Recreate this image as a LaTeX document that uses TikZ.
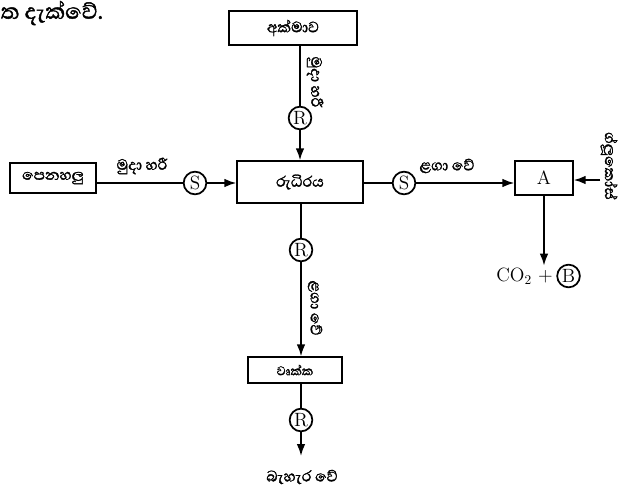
\documentclass[tikz,border=0pt]{standalone}
\usepackage{fontspec}
\newfontfamily\sinhfont[Script=Sinhala,AutoFakeBold=1.5]{Abhaya Libre}
\usetikzlibrary{arrows.meta,positioning}
\tikzset{
  >={Latex[length=9pt,width=6.5pt]},
  every picture/.style={line width=1.3pt},
  bx/.style={draw,line width=1.5pt,inner sep=2pt,font=\sinhfont\bfseries\Large},
  rnd/.style={circle,draw,line width=1.3pt,minimum size=17pt,inner sep=0pt,font=\Large},
  lab/.style={font=\sinhfont\bfseries\Large,inner sep=1pt},
  vlab/.style={lab,rotate=-90},
}

\begin{document}
\begin{tikzpicture}[x=0.75pt,y=-0.75pt]
  \useasboundingbox (0,0) rectangle (620,492);
  % heading
  \node[font=\sinhfont\bfseries\huge,anchor=north west,inner sep=0pt] (head) at (0,0) {ත දැක්වේ.};
  % boxes
  \node[bx,minimum width=96pt,minimum height=26pt] (liver) at (293,28) {අක්මාව};
  \node[bx,minimum width=94pt,minimum height=31pt] (blood) at (300,182) {රුධිරය};
  \node[bx,minimum width=65pt,minimum height=22pt] (lungs) at (53,178) {පෙනහලු};
  \node[bx,minimum width=43pt,minimum height=26pt,font=\Large] (A) at (544,178) {A};
  \node[bx,minimum width=71pt,minimum height=19pt,font=\sinhfont\bfseries\large] (kidney) at (295,370) {වෘක්ක};
  % circles
  \node[rnd] (r1) at (300,118) {R};
  \node[rnd] (s1) at (195,183) {S};
  \node[rnd] (s2) at (404,183) {S};
  \node[rnd] (r2) at (301,250) {R};
  \node[rnd] (r3) at (301,420) {R};
  \node[font=\Large,anchor=east,inner sep=1pt] (co2) at (555,276) {CO$_2$ +};
  \node[rnd,right=1pt of co2] (b) {B};
  \coordinate (gin) at (600,180);
  \coordinate (out) at (301,456);
  % connectors
  \draw (liver.south -| r1) -- (r1);
  \draw[->] (r1) -- (r1 |- blood.north);
  \draw (lungs.east |- s1) -- (s1);
  \draw[->] (s1) -- (blood.west |- s1);
  \draw (blood.east |- s2) -- (s2);
  \draw[->] (s2) -- (A.west |- s2);
  \draw[->] (gin) -- (A.east |- gin);
  \draw[->] (A) -- (A |- co2.north);
  \draw (blood.south -| r2) -- (r2);
  \draw[->] (r2) -- (r2 |- kidney.north);
  \draw (kidney.south -| r3) -- (r3);
  \draw[->] (r3) -- (out);
  % labels
  \node[vlab] (l1) at (315,82) {මුදා හරී};
  \node[lab] (l2) at (142,166) {මුදා හරී};
  \node[lab] (l3) at (447,166) {ළගා වේ};
  \node[vlab] (l4) at (315,308) {ළගා වේ};
  \node[vlab] (l5) at (609,166) {ග්ලූකෝස්};
  \node[lab] (l6) at (302,477) {බැහැර වේ};
\end{tikzpicture}
\end{document}
